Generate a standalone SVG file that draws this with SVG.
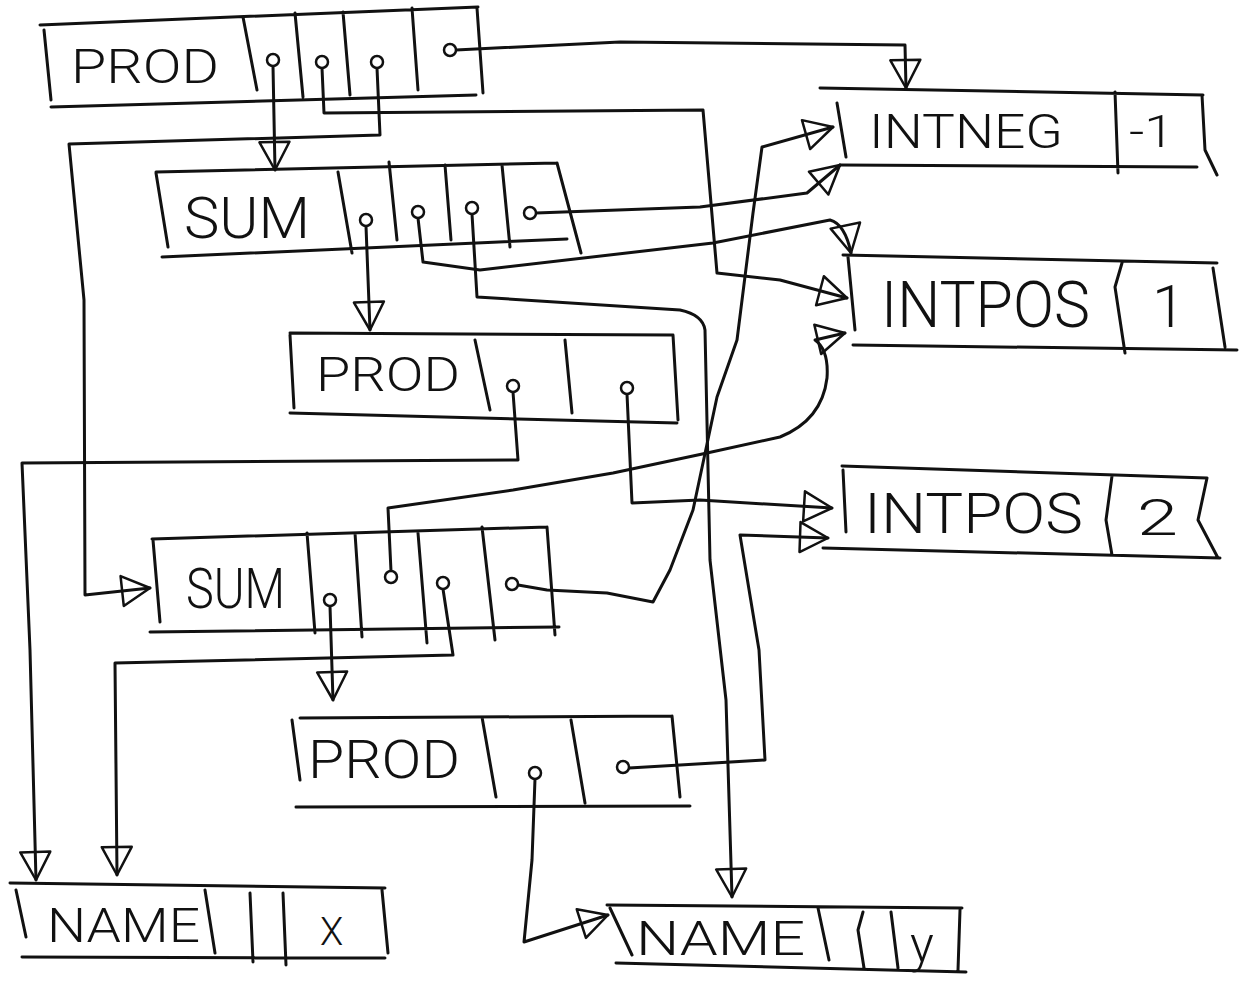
<svg xmlns="http://www.w3.org/2000/svg" width="1248" height="981" viewBox="0 0 1248 981">
<defs>
<style>
.bx{fill:none;stroke:#111;stroke-width:3;stroke-linecap:round;stroke-linejoin:round}
.ln{fill:none;stroke:#111;stroke-width:3;stroke-linecap:round;stroke-linejoin:round;marker-end:url(#ah)}
.pt{fill:#fff;stroke:#111;stroke-width:2.5}
.t{font-family:Roboto,"Liberation Sans","DejaVu Sans",sans-serif;font-weight:300;fill:#111}
</style>
<marker id="ah" markerUnits="userSpaceOnUse" markerWidth="40" markerHeight="40" refX="29" refY="16" orient="auto" overflow="visible">
<path d="M1,1 L29,16 L1,31 Z" fill="none" stroke="#111" stroke-width="2.5" stroke-linejoin="round"/>
</marker>
</defs>
<rect width="1248" height="981" fill="#fff"/>

<g id="connectors">
<path class="ln" d="M273,66 L275,170"/>
<path class="ln" d="M322,68 L324,113 L703,110 L717,273 L780,280 L847,298"/>
<path class="ln" d="M377,68 L380,135 L69,144 L84,300 L85,595 L150,588"/>
<path class="ln" d="M456,50 L620,42 L905,45 L906,88"/>
<path class="ln" d="M366,226 L370,330"/>
<path class="ln" d="M418,218 L423,262 L480,270 L713,243 L830,220 Q845,224 851,253"/>
<path class="ln" d="M472,214 L477,297 L680,310 Q703,315 705,330 L710,560 L726,700 L732,897"/>
<path class="ln" d="M536,213 L700,207 L807,193 L840,165"/>
<path class="ln" d="M513,392 L518,460 L22,463 L30,650 L36,880"/>
<path class="ln" d="M627,394 L632,503 L700,500 L832,508"/>
<path class="ln" d="M330,606 L333,700"/>
<path class="ln" d="M391,571 L388,508 L513,490 L613,473 L707,453 L780,437 Q822,420 827,378 Q829,350 815,340 L845,333"/>
<path class="ln" d="M443,589 L453,655 L115,663 L117,875"/>
<path class="ln" d="M518,585 L547,590 L607,593 L653,602 L670,570 L693,510 L717,397 L737,340 L753,213 L762,147 L833,127"/>
<path class="ln" d="M535,779 L532,860 L524,942 L608,915"/>
<path class="ln" d="M629,768 L765,760 L759,650 L740,535 L828,538"/>
</g>

<g id="prod1">
<path class="bx" d="M40,25 L478,7 M44,30 L51,100 M51,107 L476,95 M477,8 L483,93 M243,17 L257,90 M295,13 L303,97 M343,12 L350,95 M412,8 L418,90"/>
<text class="t" x="71" y="83" font-size="49" textLength="148" lengthAdjust="spacingAndGlyphs">PROD</text>
<circle class="pt" cx="273" cy="60" r="6"/><circle class="pt" cx="322" cy="62" r="6"/><circle class="pt" cx="377" cy="62" r="6"/><circle class="pt" cx="450" cy="50" r="6"/>
</g>

<g id="sum1">
<path class="bx" d="M156,172 L557,163 M156,173 L168,247 M162,257 L567,239 M557,163 L581,253 M338,172 L352,253 M389,162 L397,240 M445,165 L451,240 M502,165 L510,247"/>
<text class="t" x="184" y="238" font-size="57" textLength="126" lengthAdjust="spacingAndGlyphs">SUM</text>
<circle class="pt" cx="366" cy="220" r="6"/><circle class="pt" cx="418" cy="212" r="6"/><circle class="pt" cx="472" cy="208" r="6"/><circle class="pt" cx="530" cy="213" r="6"/>
</g>

<g id="prod2">
<path class="bx" d="M290,333 L673,335 M290,335 L294,408 M290,413 L677,423 M673,335 L678,420 M475,340 L490,410 M565,340 L572,413"/>
<text class="t" x="316" y="391" font-size="49" textLength="144" lengthAdjust="spacingAndGlyphs">PROD</text>
<circle class="pt" cx="513" cy="386" r="6"/><circle class="pt" cx="627" cy="388" r="6"/>
</g>

<g id="sum2">
<path class="bx" d="M152,539 L547,527 M153,540 L160,622 M150,632 L559,627 M547,527 L555,635 M307,533 L315,633 M355,533 L362,637 M418,533 L427,643 M482,527 L495,640"/>
<text class="t" x="186" y="608" font-size="56" textLength="99" lengthAdjust="spacingAndGlyphs">SUM</text>
<circle class="pt" cx="330" cy="600" r="6"/><circle class="pt" cx="391" cy="577" r="6"/><circle class="pt" cx="443" cy="583" r="6"/><circle class="pt" cx="512" cy="584" r="6"/>
</g>

<g id="prod3">
<path class="bx" d="M300,718 L672,716 M292,720 L300,780 M296,807 L690,806 M672,716 L680,797 M482,717 L496,797 M571,720 L585,803"/>
<text class="t" x="308" y="778" font-size="53" textLength="152" lengthAdjust="spacingAndGlyphs">PROD</text>
<circle class="pt" cx="535" cy="773" r="6"/><circle class="pt" cx="623" cy="767" r="6"/>
</g>

<g id="intneg">
<path class="bx" d="M820,88 L1203,95 M837,103 L846,157 M840,165 L1197,167 M1202,95 L1205,150 L1217,175 M1115,92 L1118,173"/>
<text class="t" x="869" y="148" font-size="48" textLength="194" lengthAdjust="spacingAndGlyphs">INTNEG</text>
<text class="t" x="1129" y="147" font-size="44" textLength="45" lengthAdjust="spacingAndGlyphs">-1</text>
</g>

<g id="intpos1">
<path class="bx" d="M843,255 L1217,263 M848,257 L855,330 M853,345 L1237,350 M1213,268 L1225,347 M1122,263 L1115,287 L1125,353"/>
<text class="t" x="881" y="327" font-size="65" textLength="209" lengthAdjust="spacingAndGlyphs">INTPOS</text>
<text class="t" x="1152" y="327" font-size="60">1</text>
</g>

<g id="intpos2">
<path class="bx" d="M842,466 L1207,478 M843,470 L846,532 M823,548 L1220,558 M1207,478 L1198,520 L1218,558 M1112,476 L1106,520 L1112,555"/>
<text class="t" x="864" y="533" font-size="56" textLength="219" lengthAdjust="spacingAndGlyphs">INTPOS</text>
<text class="t" x="1137" y="535" font-size="50" textLength="41" lengthAdjust="spacingAndGlyphs">2</text>
</g>

<g id="namex">
<path class="bx" d="M10,883 L385,888 M16,890 L26,937 M22,957 L385,958 M382,890 L388,953 M205,890 L215,953 M250,893 L253,962 M283,893 L286,965"/>
<text class="t" x="47" y="942" font-size="48" textLength="153" lengthAdjust="spacingAndGlyphs">NAME</text>
<text class="t" x="320" y="945" font-size="38">X</text>
</g>

<g id="namey">
<path class="bx" d="M607,905 L962,908 M610,908 L632,955 M616,963 L966,972 M960,910 L958,970 M818,908 L829,960 M863,912 L858,930 L864,968 M891,912 L898,968"/>
<text class="t" x="636" y="955" font-size="48" textLength="169" lengthAdjust="spacingAndGlyphs">NAME</text>
<text class="t" x="910" y="962" font-size="50">y</text>
</g>
</svg>
